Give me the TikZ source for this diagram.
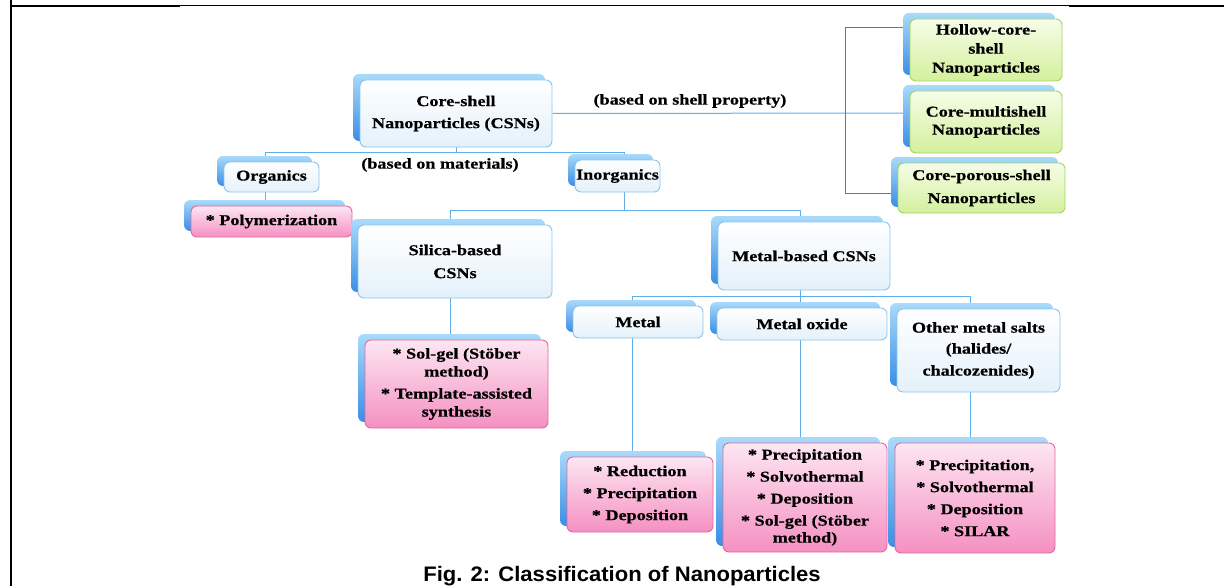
\documentclass[tikz,border=0pt]{standalone}
\usepackage{fontspec}
\setmainfont{Liberation Serif}[FakeStretch=1.21, BoldFeatures={FakeBold=0.6}]
\newfontfamily\capfont{Liberation Sans}[FakeStretch=1.05]
\usetikzlibrary{shadows}
\pgfdeclarelayer{background}
\pgfsetlayers{background,main}

\definecolor{connblue}{HTML}{62AEEA}
\definecolor{brackblue}{HTML}{4A7CBE}
\definecolor{boxline}{HTML}{8CC4EE}
\definecolor{boxlow}{HTML}{E4F1FA}
\definecolor{shadtop}{HTML}{A9DAFA}
\definecolor{shadlow}{HTML}{3A8EE6}
\definecolor{pinkline}{HTML}{E06A98}
\definecolor{pinktop}{HTML}{FDE6F2}
\definecolor{pinklow}{HTML}{F590C2}
\definecolor{greenline}{HTML}{A2D65A}
\definecolor{greentop}{HTML}{F6FDE8}
\definecolor{greenlow}{HTML}{D3F09C}

\newcommand\boxtext{\fontsize{15}{22}\selectfont\bfseries}

\tikzset{
  x=1pt, y=-1pt,
  box/.style={rounded corners=6pt, draw=boxline, line width=0.9pt,
    top color=white, bottom color=boxlow, align=center, inner sep=0pt,
    font=\boxtext,
    general shadow={shadow xshift=-7pt, shadow yshift=6pt,
      top color=shadtop, bottom color=shadlow, draw=none}},
  pinkbox/.style={box, draw=pinkline, top color=pinktop, bottom color=pinklow},
  greenbox/.style={box, draw=greenline, top color=greentop, bottom color=greenlow},
  sz/.style 2 args={minimum width=#1pt, minimum height=#2pt},
  conn/.style={draw=connblue, line width=1pt},
  brack/.style={draw=brackblue, line width=1pt},
  note/.style={font=\boxtext, inner sep=1pt},
}

\begin{document}
\begin{tikzpicture}
\useasboundingbox (0,0) rectangle (1224,586);

% page frame
\draw[line width=2pt] (11,0) -- (11,586);
\draw[line width=2pt] (11,6) -- (180,6);
\draw[line width=1pt] (180,6) -- (1069,6);
\draw[line width=2pt] (1069,6) -- (1224,6);

% root and first level
\node[box, sz={192}{67}] (cs) at (456,113.5) {Core-shell\\Nanoparticles (CSNs)};
\node[box, sz={95}{30}] (org) at (271.5,177) {Organics};
\node[box, sz={85}{32}] (inorg) at (617.5,176) {Inorganics};
\node[pinkbox, sz={161}{31}] (poly) at (271.5,221.5) {* Polymerization};

% shell-property branch
\node[greenbox, sz={152}{62}] (hol) at (986,50) {Hollow-core-\\[-3pt]shell\\[-3pt]Nanoparticles};
\node[greenbox, sz={152}{62}] (mult) at (986,122) {Core-multishell\\[-4pt]Nanoparticles};
\node[greenbox, sz={167}{50}] (por) at (981.5,188) {Core-porous-shell\\[1pt]Nanoparticles};

% inorganic branch
\node[box, sz={194}{73}] (sil) at (455,261.5) {Silica-based\\[1pt]CSNs};
\node[box, sz={172}{68}] (metb) at (804,256) {Metal-based CSNs};
\node[pinkbox, sz={183}{88}] (solgel) at (456.5,384) {* Sol-gel (St\"ober\\[-4pt]method)\\* Template-assisted\\[-4pt]synthesis};

% metal-based sub-classes
\node[box, sz={130}{32}] (metal) at (638,322) {Metal};
\node[box, sz={170}{32}] (mox) at (802,324) {Metal oxide};
\node[box, sz={163}{83}] (other) at (978.5,350.5) {Other metal salts\\[-1pt](halides/\\chalcozenides)};

% synthesis routes
\node[pinkbox, sz={146}{75}] (red) at (640,494.5) {* Reduction\\* Precipitation\\* Deposition};
\node[pinkbox, sz={164}{109}] (prec) at (805,497.5) {* Precipitation\\* Solvothermal\\* Deposition\\* Sol-gel (St\"ober\\[-5pt]method)};
\node[pinkbox, sz={160}{110}] (oth) at (975,498) {* Precipitation,\\* Solvothermal\\* Deposition\\* SILAR};

% branch labels
\node[note] (lshell) at (690,101) {(based on shell property)};
\node[note] (lmat) at (440,165) {(based on materials)};

% caption
\node[font=\capfont\bfseries\fontsize{21}{23}\selectfont, inner sep=0pt] (cap) at (622,576) {Fig. 2: Classification of Nanoparticles};

% connectors
\begin{pgfonlayer}{background}
  \draw[conn] (cs.south) -- ++(0,5) coordinate (b1);
  \draw[conn] ([xshift=-6.5pt]org.north) |- (b1) -| ([xshift=7pt]inorg.north);
  \draw[conn] ([xshift=-6.5pt]org.south) -- ([xshift=-6.5pt]poly.north);

  \draw[conn] ([xshift=7pt]inorg.south) -- ++(0,18) coordinate (b2);
  \draw[conn] ([xshift=-5pt]sil.north) |- (b2) -| ([xshift=-4pt]metb.north);
  \draw[conn] ([xshift=-5pt]sil.south) -- ([xshift=-6.5pt]solgel.north);

  \draw[conn] ([xshift=-4pt]metb.south) -- ++(0,6) coordinate (b3);
  \draw[conn] ([xshift=-6pt]metal.north) |- (b3) -| ([xshift=-8.5pt]other.north);
  \draw[conn] (b3) -- ([xshift=-2pt]mox.north);
  \draw[conn] ([xshift=-6pt]metal.south) -- ([xshift=-8pt]red.north);
  \draw[conn] ([xshift=-2pt]mox.south) -- ([xshift=-5pt]prec.north);
  \draw[conn] ([xshift=-8.5pt]other.south) -- ([xshift=-5pt]oth.north);

  \coordinate (br) at (845,113);
  \draw[conn] (cs.east) -- ([yshift=9pt]mult.west);
  \draw[brack] ([yshift=22pt]hol.west) -- ([yshift=22pt]hol.west -| br)
     -- ([yshift=-5pt]por.west -| br) -- ([yshift=-5pt]por.west);
\end{pgfonlayer}
\end{tikzpicture}
\end{document}
